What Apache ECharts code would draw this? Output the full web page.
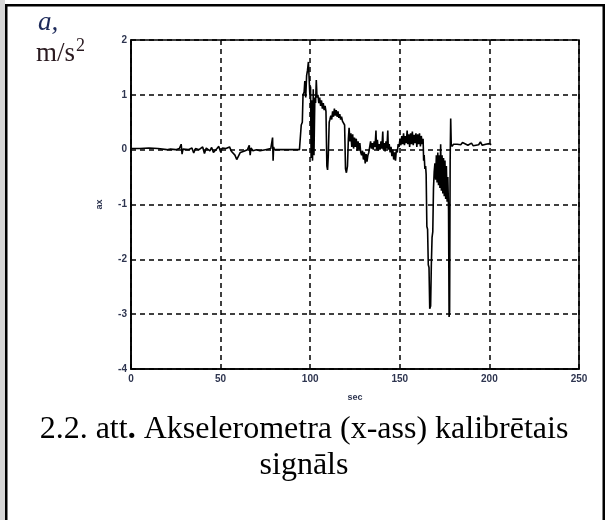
<!DOCTYPE html>
<html><head><meta charset="utf-8">
<script src="https://cdn.jsdelivr.net/npm/echarts@6/dist/echarts.min.js"></script>
<style>html,body{margin:0;padding:0;background:#fff}#c{width:608px;height:520px}</style>
</head><body><div id="c"></div>
<script>
// ---- data ----
const xTicks = [0, 50, 100, 150, 200, 250];
const yTicks = [-4, -3, -2, -1, 0, 1, 2];
const timeSec = [
  0,5,10,15,20,22,25,27,28,28.5,29,32,34,35,36,38,40,41,42,44,45,46,48,49,50,51,52,53,55,56,57,58,59,60,61,62,63,65,66,66.5,67,68,70,72,75,78,79,79.3,79.6,80,85,90,94,
  94.6,95,95.6,96,96.6,97,97.5,98,98.5,99,99.4,99.8,100.2,100.5,100.9,101.3,101.7,102.1,102.6,103,103.4,103.8,104.3,104.8,105.3,105.8,106.3,106.8,107.3,107.8,108.3,108.8,109.3,109.7,110.1,
  110.6,111,111.5,112,112.5,113,113.5,114,114.5,115,115.5,116,116.5,117,117.5,118,118.6,119.2,119.7,120.2,120.8,
  121.3,121.7,122.2,122.7,123.2,123.7,124.2,124.7,125.2,125.7,126.2,126.7,127.2,127.7,128.2,128.7,129.2,129.7,130.2,130.7,131.2,131.7,132.2,132.7,
  133.2,133.7,134.2,134.7,135.2,135.7,136.2,136.7,137,137.5,138,138.5,139,139.5,140,140.5,140.8,141.3,141.8,142.3,142.8,143.3,143.6,144.1,144.6,
  145.1,145.6,146.1,146.6,147.1,147.6,148.1,148.6,149.1,149.6,150.1,150.6,151.1,151.6,152.1,152.6,153.1,153.6,154.1,154.5,155,155.5,156,156.5,
  157,157.5,158,158.5,159,159.5,160,160.5,161,161.5,162,162.5,163,163.3,163.6,164,164.4,164.7,165.1,165.5,165.9,166.3,166.7,167.2,167.6,168,168.4,168.8,
  169.2,169.6,170,170.4,170.8,171.2,171.6,172,172.4,172.8,173.2,173.6,174,174.4,174.8,175.2,175.6,176,176.4,176.8,177.2,177.5,177.8,178.1,178.4,178.7,
  179.2,180,182,184,185,186,188,190,191,192,194,195,196,198,200,201
];
const accel = [
  0.02,0.02,0.03,0.02,0.0,0.01,0.0,0.02,0.1,-0.08,0.01,0.0,0.03,-0.06,0.02,0.0,0.05,-0.07,0.03,-0.02,0.04,-0.05,0.02,0.06,-0.04,0.03,0.0,0.02,0.05,-0.03,0.0,-0.1,-0.18,-0.15,-0.05,-0.02,-0.03,0.0,0.08,-0.1,0.03,-0.02,0.0,-0.02,0.0,0.02,0.22,-0.2,0.05,0.0,0.0,0.0,0.0,
  0.02,0.45,0.5,1.0,1.05,1.25,0.95,1.35,1.45,1.6,1.3,1.0,1.15,-0.15,0.9,-0.2,1.1,-0.1,0.95,0.85,1.27,0.95,1.0,0.85,0.95,0.8,0.9,0.75,0.85,0.72,0.8,0.7,-0.3,-0.37,-0.1,
  0.5,0.55,0.62,0.55,0.7,0.6,0.75,0.62,0.72,0.6,0.7,0.58,0.65,0.55,0.6,0.52,0.55,0.45,-0.35,-0.42,-0.3,
  0.2,0.4,0.15,0.3,0.05,0.28,0.02,0.22,0.05,0.2,-0.02,0.15,0.0,0.12,-0.05,-0.1,-0.02,-0.18,-0.05,-0.25,-0.08,-0.22,-0.1,-0.05,
  0.05,0.15,0.02,0.12,0.0,0.15,0.05,0.35,0.0,0.18,-0.02,0.1,0.0,0.15,0.02,0.33,0.0,0.12,-0.03,0.15,0.02,0.35,0.0,0.1,-0.05,
  0.05,-0.12,0.0,-0.18,-0.05,-0.2,0.0,-0.05,0.1,0.05,0.2,0.08,0.25,0.1,0.3,0.08,0.25,0.12,0.35,0.1,0.28,0.05,0.3,0.1,
  0.33,0.08,0.27,0.12,0.3,0.05,0.28,0.1,0.3,0.06,0.25,0.1,0.2,-0.2,-0.1,-0.35,-0.3,-0.45,-1.4,-1.45,-2.1,-2.15,-2.9,-2.85,-2.1,-1.6,-1.5,-0.7,
  -0.4,-0.25,-0.55,-0.1,-0.6,-0.05,-0.65,-0.1,-0.7,0.1,-0.75,-0.1,-0.8,-0.15,-0.85,-0.2,-0.9,-0.3,-0.95,-0.5,-1.1,-3.05,-2.95,-0.2,0.57,0.1,
  0.06,0.1,0.1,0.09,0.13,0.1,0.08,0.12,0.07,0.1,0.09,0.14,0.08,0.1,0.11,0.09
];
const xName = 'sec';
const yName = 'ax';
const unitLine1 = 'a,';
const unitLine2 = 'm/s';
const captionLine1a = '2.2. att';
const captionLine1b = '.';
const captionLine1c = ' Akselerometra (x-ass) kalibrētais';
const captionLine2 = 'signāls';

const points = timeSec.map((t, i) => [t, accel[i]]);

const chart = echarts.init(document.getElementById('c'), null, {renderer: 'canvas'});
const tickFont = {fontFamily: 'Liberation Sans', fontSize: 10, fontWeight: 'bold', color: '#2e3550'};
chart.setOption({
  animation: false,
  backgroundColor: '#fff',
  grid: {left: 131, right: 29, top: 40, bottom: 151, show: true, borderColor: '#000', borderWidth: 1.6, backgroundColor: 'transparent'},
  xAxis: {
    type: 'value', min: 0, max: 250, interval: 50,
    name: xName, nameLocation: 'middle', nameGap: 24,
    nameTextStyle: {fontFamily: 'Liberation Sans', fontSize: 9, fontWeight: 'bold', color: '#2e3550'},
    axisLine: {show: true, onZero: false, lineStyle: {color: '#000', width: 1.6}},
    axisTick: {show: false},
    axisLabel: Object.assign({margin: 5, formatter: v => xTicks.includes(v) ? String(v) : ''}, tickFont),
    splitLine: {show: true, lineStyle: {color: '#000', type: [5, 4], width: 1.5}}
  },
  yAxis: {
    type: 'value', min: -4, max: 2, interval: 1,
    name: yName, nameLocation: 'middle', nameGap: 27, nameRotate: 90,
    nameTextStyle: {fontFamily: 'Liberation Sans', fontSize: 9, fontWeight: 'bold', color: '#2e3550'},
    axisLine: {show: true, onZero: false, lineStyle: {color: '#000', width: 1.6}},
    axisTick: {show: false},
    axisLabel: Object.assign({margin: 4, formatter: v => yTicks.includes(v) ? String(v) : ''}, tickFont),
    splitLine: {show: true, lineStyle: {color: '#000', type: [5, 4], width: 1.5}}
  },
  series: [{
    type: 'line', data: points, showSymbol: false, symbol: 'none',
    lineStyle: {color: '#000', width: 1.6}, clip: true
  }],
  graphic: [
    {type: 'rect', shape: {x: 0, y: 0, width: 5, height: 520}, style: {fill: '#d6d6d6'}},
    {type: 'rect', shape: {x: 5, y: 4, width: 2.5, height: 516}, style: {fill: '#000'}},
    {type: 'rect', shape: {x: 5, y: 4, width: 600, height: 2.5}, style: {fill: '#000'}},
    {type: 'rect', shape: {x: 602.5, y: 4, width: 2.5, height: 516}, style: {fill: '#000'}},
    {type: 'text', left: 38, top: 9, style: {text: unitLine1, font: 'italic 27px "Liberation Serif"', fill: '#1d2a5a'}},
    {type: 'text', left: 36, top: 40, style: {text: unitLine2, font: '27px "Liberation Serif"', fill: '#2a1a20'}},
    {type: 'text', left: 76, top: 37, style: {text: '2', font: '18px "Liberation Serif"', fill: '#2a1a20'}},
    {type: 'text', left: 'center', top: 414, style: {
      text: '{n|' + captionLine1a + '}{b|' + captionLine1b + '}{n|' + captionLine1c + '}',
      rich: {n: {font: '32px "Liberation Serif"', fill: '#000'}, b: {font: 'bold 32px "Liberation Serif"', fill: '#000'}}
    }},
    {type: 'text', left: 'center', top: 450, style: {text: captionLine2, font: '32px "Liberation Serif"', fill: '#000'}}
  ]
});
</script></body></html>
